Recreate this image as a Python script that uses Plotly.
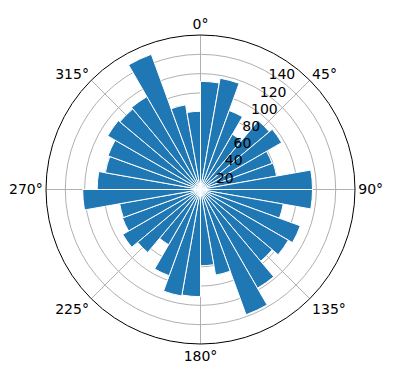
import plotly.graph_objects as go

# bar start angles (deg, clockwise from north), bin width 10 deg
bin_starts = list(range(0, 360, 10))
bin_width = 10
counts = [112, 117, 87, 66, 93, 97, 79, 80, 116,
          116, 87, 110, 105, 97, 118, 138, 90, 79,
          111, 112, 95, 66, 85, 93, 86, 85, 122,
          107, 100, 102, 111, 109, 111, 149, 89, 81]
angle_ticks = [0, 45, 90, 135, 180, 225, 270, 315]
angle_labels = [f"{a}°" for a in angle_ticks]
radial_ticks = [20, 40, 60, 80, 100, 120, 140]

centers = [s + bin_width / 2 for s in bin_starts]

fig = go.Figure(go.Barpolar(
    r=counts,
    theta=centers,
    width=[bin_width] * len(counts),
    marker=dict(color="#1f77b4", line=dict(color="white", width=1)),
    opacity=1,
))

font = dict(family="DejaVu Sans", size=14, color="black")
fig.update_layout(
    width=396, height=380,
    margin=dict(l=46, r=41, t=35, b=36),
    paper_bgcolor="white",
    showlegend=False,
    font=font,
    polar=dict(
        bgcolor="white",
        bargap=0,
        angularaxis=dict(
            rotation=90, direction="clockwise",
            tickmode="array", tickvals=angle_ticks, ticktext=angle_labels,
            showline=True, linecolor="black", linewidth=1,
            showgrid=True, gridcolor="#b0b0b0", gridwidth=0.8,
            ticks="", tickfont=font,
        ),
        radialaxis=dict(
            range=[0, 160], tickmode="array", tickvals=radial_ticks,
            angle=63, tickangle=63, showline=False, ticks="",
            showgrid=True, gridcolor="#b0b0b0", gridwidth=0.8,
            tickfont=font,
        ),
    ),
)

fig.write_html("out.html")
